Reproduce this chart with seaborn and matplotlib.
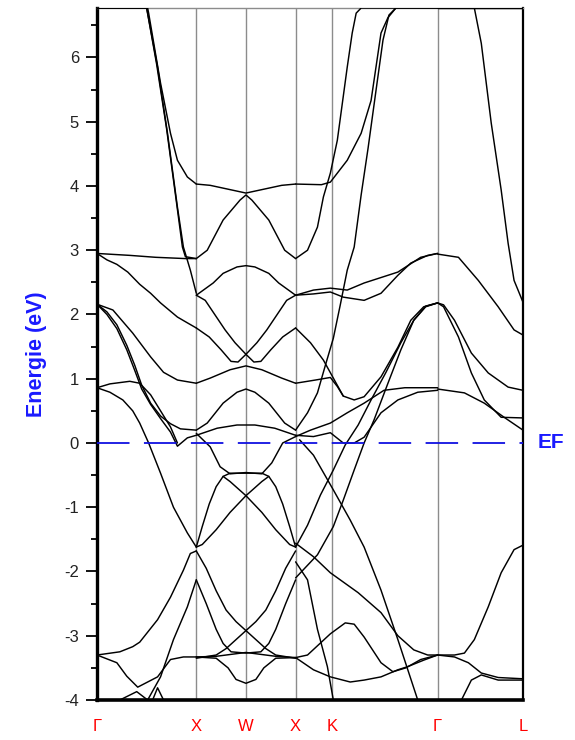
import numpy as np
import pandas as pd
import matplotlib
matplotlib.use("Agg")
import matplotlib.pyplot as plt
import seaborn as sns

# ---------------- data ----------------
kpoint_labels = ["\u0393", "X", "W", "X", "K", "\u0393", "L"]
kpoint_pos = [0.0, 1.0, 1.5, 2.0, 2.37, 3.43, 4.29]
e_fermi = 0.0
e_min, e_max = -4.0, 6.77

# Gamma -> X
bands_gx = [
    [(0, 6.77), (0.51, 6.77), (0.52, 6.69), (0.64, 5.6), (0.74, 4.82), (0.81, 4.4), (0.91, 4.14), (1.0, 4.03)],
    [(0, 6.77), (0.50, 6.77), (0.61, 5.85), (0.71, 4.82), (0.81, 3.67), (0.87, 3.05), (0.94, 2.69), (1.0, 2.33)],
    [(0, 6.77), (0.50, 6.77), (0.60, 5.9), (0.70, 4.9), (0.80, 3.75), (0.86, 3.05), (0.89, 2.9), (1.0, 2.87)],
    [(0, 2.95), (0.33, 2.92), (0.59, 2.89), (0.89, 2.87), (1.0, 2.87)],
    [(0, 2.95), (0.10, 2.85), (0.20, 2.78), (0.31, 2.66), (0.43, 2.47), (0.54, 2.33), (0.64, 2.18), (0.81, 1.96), (0.91, 1.87), (1.0, 1.79)],
    [(0, 2.16), (0.16, 2.07), (0.36, 1.71), (0.54, 1.34), (0.67, 1.10), (0.81, 0.98), (1.0, 0.93)],
    [(0, 2.16), (0.10, 2.04), (0.20, 1.84), (0.30, 1.52), (0.38, 1.21), (0.45, 0.90), (0.54, 0.62), (0.64, 0.42), (0.74, 0.30), (0.84, 0.22), (1.0, 0.2)],
    [(0, 2.16), (0.10, 2.0), (0.20, 1.78), (0.30, 1.45), (0.38, 1.13), (0.45, 0.84), (0.54, 0.60), (0.64, 0.38), (0.74, 0.17), (0.81, -0.05), (0.91, 0.08), (1.0, 0.12)],
    [(0, 0.86), (0.13, 0.92), (0.33, 0.96), (0.43, 0.93), (0.54, 0.75), (0.64, 0.5), (0.74, 0.25), (0.81, 0.0)],
    [(0, 0.86), (0.13, 0.79), (0.26, 0.67), (0.36, 0.5), (0.43, 0.31), (0.52, 0.0), (0.64, -0.47), (0.77, -1.0), (0.91, -1.4), (1.0, -1.62)],
    [(0, -3.3), (0.23, -3.25), (0.36, -3.17), (0.43, -3.1), (0.61, -2.75), (0.74, -2.4), (0.87, -1.98), (0.94, -1.72), (1.0, -1.68)],
    [(0, -3.3), (0.20, -3.42), (0.30, -3.63), (0.41, -3.8), (0.61, -3.64), (0.74, -3.37), (0.87, -3.33), (1.0, -3.33)],
    [(0.51, -4.0), (0.64, -3.64), (0.77, -3.06), (0.91, -2.55), (1.0, -2.13)],
    [(0.23, -4.0), (0.40, -3.87), (0.51, -4.0)],
    [(0.56, -4.0), (0.61, -3.81), (0.67, -4.0)],
]

# X -> W -> X
bands_xwx = [
    [(1.0, 4.03), (1.14, 4.01), (1.29, 3.96), (1.5, 3.89), (1.71, 3.96), (1.86, 4.01), (2.0, 4.03)],
    [(1.0, 2.87), (1.11, 3.0), (1.27, 3.47), (1.44, 3.78), (1.5, 3.86), (1.56, 3.78), (1.73, 3.47), (1.89, 3.0), (2.0, 2.87)],
    [(1.0, 2.3), (1.17, 2.49), (1.27, 2.64), (1.41, 2.74), (1.5, 2.76), (1.59, 2.74), (1.73, 2.64), (1.83, 2.49), (2.0, 2.3)],
    [(1.0, 2.3), (1.09, 2.22), (1.19, 1.99), (1.29, 1.76), (1.39, 1.56), (1.5, 1.38), (1.58, 1.26), (1.65, 1.27), (1.75, 1.45), (1.87, 1.65), (2.0, 1.79)],
    [(1.0, 1.79), (1.13, 1.65), (1.25, 1.45), (1.35, 1.27), (1.42, 1.26), (1.5, 1.38), (1.61, 1.56), (1.71, 1.76), (1.81, 1.99), (1.91, 2.22), (2.0, 2.3)],
    [(1.0, 0.93), (1.14, 1.01), (1.34, 1.14), (1.5, 1.2), (1.66, 1.14), (1.86, 1.01), (2.0, 0.93)],
    [(1.0, 0.2), (1.11, 0.31), (1.27, 0.62), (1.41, 0.79), (1.5, 0.84), (1.59, 0.79), (1.73, 0.62), (1.89, 0.31), (2.0, 0.2)],
    [(1.0, 0.12), (1.21, 0.23), (1.41, 0.28), (1.5, 0.28), (1.59, 0.28), (1.79, 0.23), (2.0, 0.12)],
    [(1.0, 0.15), (1.14, -0.06), (1.24, -0.37), (1.34, -0.48), (1.5, -0.46), (1.66, -0.48), (1.76, -0.31), (1.87, 0.0), (2.0, 0.1)],
    [(1.0, -1.62), (1.06, -1.3), (1.13, -0.95), (1.2, -0.68), (1.27, -0.52), (1.34, -0.47), (1.5, -0.47), (1.66, -0.47), (1.73, -0.52), (1.8, -0.68), (1.87, -0.95), (1.94, -1.3), (2.0, -1.62)],
    [(1.27, -0.52), (1.34, -0.6), (1.5, -0.82), (1.66, -1.08), (1.8, -1.35), (1.94, -1.58), (2.0, -1.62)],
    [(1.0, -1.62), (1.06, -1.58), (1.2, -1.35), (1.34, -1.08), (1.5, -0.82), (1.66, -0.6), (1.73, -0.52)],
    [(1.0, -1.68), (1.1, -1.95), (1.2, -2.3), (1.3, -2.6), (1.4, -2.78), (1.5, -2.92), (1.6, -3.06), (1.7, -3.2), (1.8, -3.3), (2.0, -3.35)],
    [(1.0, -3.35), (1.2, -3.3), (1.3, -3.2), (1.4, -3.06), (1.5, -2.92), (1.6, -2.78), (1.7, -2.6), (1.8, -2.3), (1.9, -1.95), (2.0, -1.68)],
    [(1.0, -2.13), (1.1, -2.5), (1.2, -2.9), (1.27, -3.12), (1.35, -3.25), (1.5, -3.27), (1.65, -3.25), (1.73, -3.12), (1.8, -2.9), (1.9, -2.5), (2.0, -2.13)],
    [(1.0, -3.33), (1.2, -3.32), (1.5, -3.26), (1.8, -3.32), (2.0, -3.34)],
    [(1.0, -3.33), (1.2, -3.35), (1.32, -3.5), (1.4, -3.68), (1.5, -3.74), (1.6, -3.68), (1.68, -3.5), (1.8, -3.35), (2.0, -3.34)],
]

# X -> K -> Gamma
bands_xkg = [
    [(2.0, 4.03), (2.26, 4.02), (2.35, 4.06), (2.52, 4.4), (2.66, 4.82), (2.76, 5.33), (2.86, 6.38), (2.93, 6.62), (3.01, 6.77), (3.43, 6.77)],
    [(2.0, 2.87), (2.12, 3.0), (2.22, 3.36), (2.28, 3.83), (2.35, 4.2), (2.42, 4.71), (2.52, 5.85), (2.57, 6.38), (2.61, 6.69), (2.66, 6.77), (3.43, 6.77)],
    [(2.0, 0.2), (2.12, 0.47), (2.22, 0.78), (2.30, 1.21), (2.38, 1.63), (2.45, 2.15), (2.52, 2.69), (2.59, 3.05), (2.66, 3.86), (2.73, 4.59), (2.81, 5.49), (2.88, 6.27), (2.94, 6.66), (3.01, 6.77)],
    [(2.0, 2.3), (2.18, 2.38), (2.35, 2.41), (2.52, 2.38), (2.69, 2.49), (3.03, 2.66), (3.26, 2.89), (3.43, 2.95)],
    [(2.0, 2.3), (2.18, 2.32), (2.35, 2.35), (2.48, 2.27), (2.69, 2.22), (2.86, 2.33), (3.03, 2.61), (3.16, 2.8), (3.33, 2.92), (3.43, 2.95)],
    [(2.0, 1.79), (2.15, 1.56), (2.28, 1.29), (2.38, 1.01), (2.48, 0.73), (2.59, 0.67), (2.69, 0.72), (2.86, 1.03), (3.03, 1.49), (3.16, 1.91), (3.29, 2.12), (3.43, 2.18)],
    [(2.0, 0.93), (2.2, 0.98), (2.35, 1.02), (2.42, 0.88), (2.48, 0.73)],
    [(2.0, -2.1), (2.22, -1.74), (2.38, -1.3), (2.48, -0.89), (2.59, -0.42), (2.69, 0.0), (2.79, 0.36), (2.93, 0.93), (3.06, 1.45), (3.19, 1.91), (3.31, 2.13), (3.43, 2.18)],
    [(2.0, -1.62), (2.12, -1.28), (2.25, -0.81), (2.38, -0.42), (2.5, -0.03), (2.63, 0.28), (2.76, 0.67), (2.91, 1.1), (3.06, 1.56), (3.19, 1.91), (3.31, 2.12), (3.43, 2.18)],
    [(2.0, 0.1), (2.15, 0.2), (2.35, 0.31), (2.52, 0.47), (2.69, 0.62), (2.89, 0.82), (3.1, 0.86), (3.43, 0.86)],
    [(2.0, 0.12), (2.18, 0.1), (2.35, 0.16), (2.48, 0.0), (2.59, 0.0), (2.69, 0.09), (2.86, 0.47), (3.03, 0.67), (3.23, 0.79), (3.43, 0.82)],
    [(2.04, 0.05), (2.18, -0.19), (2.38, -0.73), (2.55, -1.2), (2.69, -1.62), (2.86, -2.29), (3.03, -3.06), (3.23, -4.0)],
    [(2.0, -1.56), (2.18, -1.77), (2.35, -2.02), (2.63, -2.33), (2.86, -2.64), (3.03, -3.0), (3.19, -3.22), (3.33, -3.3), (3.43, -3.3)],
    [(2.0, -1.85), (2.12, -2.13), (2.22, -2.9), (2.32, -3.48), (2.38, -4.0)],
    [(2.0, -3.34), (2.12, -3.3), (2.35, -2.97), (2.5, -2.8), (2.59, -2.82), (2.69, -3.02), (2.86, -3.42), (2.98, -3.56), (3.11, -3.5), (3.26, -3.37), (3.43, -3.3)],
    [(2.0, -3.34), (2.18, -3.53), (2.35, -3.64), (2.55, -3.72), (2.69, -3.69), (2.86, -3.64), (3.03, -3.53), (3.13, -3.48), (3.29, -3.38), (3.43, -3.3)],
]

# Gamma -> L
bands_gl = [
    [(3.43, 6.77), (4.29, 6.77)],
    [(3.43, 6.77), (3.80, 6.77), (3.87, 6.22), (3.97, 4.98), (4.07, 3.94), (4.14, 3.11), (4.20, 2.53), (4.24, 2.38), (4.29, 2.19)],
    [(3.43, 2.94), (3.64, 2.89), (3.84, 2.53), (4.04, 2.12), (4.20, 1.76), (4.29, 1.68)],
    [(3.43, 2.18), (3.49, 2.15), (3.60, 1.91), (3.77, 1.4), (3.94, 1.09), (4.14, 0.87), (4.29, 0.82)],
    [(3.43, 2.18), (3.49, 2.12), (3.64, 1.65), (3.77, 1.09), (3.90, 0.67), (4.07, 0.4), (4.29, 0.39)],
    [(3.43, 0.84), (3.70, 0.78), (3.90, 0.62), (4.10, 0.4), (4.29, 0.2)],
    [(3.43, -3.3), (3.60, -3.33), (3.74, -3.42), (3.87, -3.58), (4.04, -3.65), (4.29, -3.67)],
    [(3.43, -3.3), (3.60, -3.3), (3.70, -3.27), (3.80, -3.06), (3.94, -2.55), (4.07, -2.02), (4.20, -1.66), (4.29, -1.59)],
    [(3.67, -4.0), (3.77, -3.69), (3.87, -3.61), (4.04, -3.69), (4.29, -3.69)],
]

# ---------------- build long table ----------------
rows = []
bid = 0
for seg in (bands_gx, bands_xwx, bands_xkg, bands_gl):
    for band in seg:
        for k, e in band:
            rows.append({"band": bid, "k": k, "E": e})
        bid += 1
df = pd.DataFrame(rows)

# ---------------- plot ----------------
sns.set_theme(style="white")
plt.rcParams["font.family"] = ["Liberation Sans", "DejaVu Sans"]
plt.rcParams["axes.unicode_minus"] = False

fig = plt.figure(figsize=(5.75, 7.4), dpi=100)
ax = fig.add_axes([97 / 575, 40 / 740, (523 - 97) / 575, (700 - 8) / 740])

for xv in kpoint_pos[1:-1]:
    ax.axvline(xv, color="#8c8c8c", lw=1.0, zorder=1)

sns.lineplot(data=df, x="k", y="E", units="band", estimator=None, sort=False,
             color="black", lw=1.05, ax=ax, legend=False, zorder=3)

ax.axhline(e_fermi, color="#1010e0", lw=1.3, ls=(0, (18, 8)), zorder=4)

ax.set_xlim(kpoint_pos[0], kpoint_pos[-1])
ax.set_ylim(e_min, e_max)

ax.set_xticks(kpoint_pos)
ax.set_xticklabels(kpoint_labels, color="red", fontsize=12)
ax.tick_params(axis="x", length=0, pad=14)
ax.set_yticks(range(-4, 7))
ax.set_yticks(np.arange(-3.5, 6.6, 1.0), minor=True)
ax.tick_params(axis="y", which="major", direction="out", length=8, width=1.3,
               labelsize=12, color="black", labelcolor="#222222", left=True, pad=5)
ax.tick_params(axis="y", which="minor", direction="out", length=4, width=1.3,
               color="black", left=True)
ax.set_xlabel("")
ax.set_ylabel("Energie (eV)", color="#1a1aff", fontsize=15.5, fontweight="bold", labelpad=12)

for side, lw, col in (("left", 2.4, "black"), ("bottom", 2.6, "black"),
                      ("right", 1.6, "black"), ("top", 1.0, "#8c8c8c")):
    ax.spines[side].set_visible(True)
    ax.spines[side].set_linewidth(lw)
    ax.spines[side].set_color(col)

ax.text(1.035, e_fermi, "EF", transform=ax.get_yaxis_transform(), color="#1a1aff",
        fontsize=15, fontweight="bold", va="center", ha="left")

fig.savefig("out.png", dpi=100)
